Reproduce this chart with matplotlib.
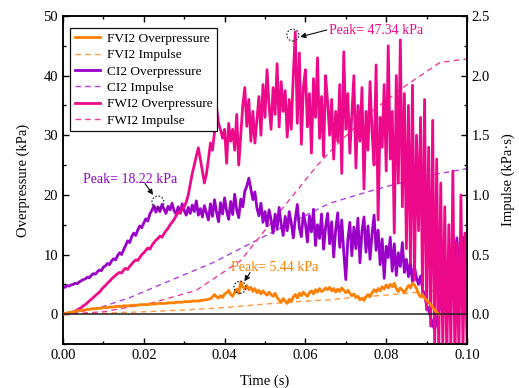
"""
Overpressure and impulse histories for FVI2 / CI2 / FWI2 (ignition at I2).
Values read off the original figure, sampled every 0.5 ms.
"""

import numpy as np
import matplotlib
matplotlib.use("Agg")
import matplotlib.pyplot as plt
import matplotlib.ticker as mticker
from matplotlib.patches import Ellipse

plt.rcParams["font.family"] = ["Liberation Serif", "DejaVu Serif"]
plt.rcParams["mathtext.fontset"] = "stix"

# ---------------------------------------------------------------------------
# Data (kPa), one value every 0.5 ms starting at t = 0
# ---------------------------------------------------------------------------
DT = 0.0005

fvi2_p = [
    0.0, 0.1, 0.2, 0.3, 0.3, 0.4, 0.5, 0.5, 0.6, 0.6, 0.7,
    0.7, 0.8, 0.8, 0.9, 0.9, 0.9, 1.0, 1.0, 1.0, 1.1,
    1.1, 1.1, 1.2, 1.2, 1.2, 1.3, 1.3, 1.3, 1.3, 1.4,
    1.4, 1.4, 1.4, 1.5, 1.5, 1.5, 1.5, 1.6, 1.6, 1.6,
    1.6, 1.6, 1.7, 1.7, 1.7, 1.7, 1.8, 1.8, 1.8, 1.8,
    1.8, 1.9, 1.9, 1.9, 1.9, 2.0, 2.0, 2.0, 2.0, 2.1,
    2.1, 2.1, 2.1, 2.2, 2.2, 2.2, 2.2, 2.3, 2.3, 2.4,
    2.4, 2.5, 2.6, 2.9, 3.3, 2.9, 2.7, 3.1, 2.8, 3.4,
    3.6, 4.0, 3.3, 3.0, 3.7, 4.2, 3.5, 5.44, 4.6, 4.2,
    4.8, 4.1, 4.5, 3.8, 4.3, 3.6, 4.0, 3.4, 3.9, 3.5,
    3.2, 3.7, 3.3, 3.0, 3.5, 2.8, 2.4, 2.0, 2.6, 2.2,
    1.8, 2.5, 2.1, 2.9, 3.3, 2.7, 3.5, 3.1, 3.7, 3.3,
    3.0, 3.6, 3.9, 3.4, 4.1, 3.7, 4.3, 3.8, 4.0, 4.4,
    4.1, 4.5, 3.9, 4.3, 3.7, 4.2, 3.8, 4.4, 4.0, 3.6,
    4.0, 3.5, 3.1, 3.4, 2.8, 3.0, 2.4, 2.7, 2.3, 2.9,
    3.3, 2.9, 3.6, 4.1, 3.7, 4.3, 3.9, 4.6, 4.2, 4.9,
    4.4, 5.0, 4.6, 5.2, 4.3, 3.8, 4.4, 4.0, 3.6, 4.2,
    4.8, 4.4, 5.2, 4.9, 4.3, 3.4, 2.9, 3.3, 2.7, 2.3,
    2.0, 1.6, 1.2, 0.7, 0.3, 0.0,
]

ci2_p = [
    4.6, 4.5, 4.8, 4.7, 4.9, 5.0, 5.2, 5.1, 5.4, 5.6, 5.8,
    5.9, 6.2, 6.1, 6.5, 6.8, 6.7, 7.1, 7.4, 7.3, 7.9,
    8.1, 8.5, 8.3, 8.9, 9.3, 9.1, 9.8, 10.3, 10.0, 10.8,
    11.5, 12.3, 12.0, 13.0, 13.6, 13.2, 14.1, 14.8, 14.5, 15.3,
    16.0, 15.6, 16.8, 17.4, 18.2, 17.1, 18.0, 17.2, 18.4, 17.6,
    16.9, 18.1, 17.5, 18.6, 17.3, 16.8, 18.0, 17.0, 18.5, 17.4,
    16.6, 17.9, 16.9, 18.3, 17.2, 19.0, 16.6, 17.7, 16.3, 18.2,
    17.0, 15.8, 18.5, 16.4, 19.2, 17.1, 15.5, 18.7, 16.8, 19.5,
    17.3, 15.9, 18.9, 16.7, 20.1, 17.5, 16.2, 19.3, 18.0, 20.6,
    21.5, 22.8, 21.0, 19.2, 20.5, 17.8, 16.5, 18.6, 15.4, 17.2,
    14.8, 17.5, 15.9, 13.6, 16.8, 14.2, 17.9, 15.1, 13.2, 16.4,
    14.0, 17.2, 15.3, 12.8, 16.0, 18.4, 14.5, 13.0, 16.9, 15.2,
    12.1, 16.5, 13.8, 17.6, 11.5, 15.0, 12.7, 16.8, 10.9, 14.6,
    16.9, 11.8, 15.5, 9.6, 14.2, 17.0, 11.2, 15.8, 10.3, 5.8,
    12.5, 15.4, 9.8, 14.6, 11.0, 16.1, 8.6, 13.9, 16.3, 10.4,
    14.8, 9.2, 13.5, 16.6, 10.7, 14.1, 8.3, 12.6, 6.0, 11.4,
    9.5, 12.9, 7.2, 11.8, 6.5, 10.3, 8.0, 12.0, 7.0, 9.2,
    6.3, 8.8, 5.5, 7.9, 6.1, 5.0, 6.4, 4.2, 3.1, 1.5,
    0.8, -0.5, -1.8, -2.6, -1.0, 0.5, 1.5, 2.8, 4.0, 3.2,
    5.5, 4.1, 7.0, 9.5, 12.8, 8.0, 6.2, 12.9, 9.0, 3.0,
]

fwi2_p = [
    0.0, 0.1, 0.1, 0.2, 0.3, 0.4, 0.5, 0.7, 0.9, 1.1, 1.4,
    1.6, 1.9, 2.2, 2.5, 2.8, 3.1, 3.4, 3.7, 4.1, 4.5,
    4.8, 5.2, 5.5, 5.9, 6.2, 6.5, 6.8, 7.0, 6.9, 7.4,
    7.7, 7.5, 8.0, 8.4, 8.8, 9.1, 9.0, 9.5, 10.0, 10.3,
    10.7, 11.1, 10.9, 11.5, 12.0, 12.4, 12.7, 13.1, 12.9, 13.5,
    14.0, 14.4, 15.0, 15.4, 15.9, 16.5, 17.1, 16.9, 17.7, 18.0,
    18.8, 20.0, 21.8, 23.6, 25.0, 26.5, 27.9, 26.0, 24.0, 22.0,
    23.5, 26.0, 28.7, 27.5, 30.5, 34.7, 32.0, 30.9, 29.5, 31.0,
    25.3, 32.0, 29.0, 31.0, 27.5, 33.5, 25.0, 30.0, 35.0, 38.0,
    31.5, 36.0, 29.0, 34.0, 28.7, 32.5, 36.5, 30.0, 38.5, 33.0,
    41.0, 35.0, 31.0, 38.0, 33.5, 42.0, 31.4, 39.0, 34.0, 37.5,
    29.7, 36.0, 31.0, 40.0, 47.34, 32.0, 43.8, 28.5, 38.0, 41.0,
    31.4, 37.0, 27.0, 39.5, 33.0, 43.0, 29.5, 36.5, 26.5, 40.0,
    35.5, 30.0, 36.0, 26.0, 34.0, 29.0, 38.5, 23.6, 44.0, 31.0,
    37.0, 27.0, 33.5, 40.0, 24.5, 35.0, 29.0, 38.0, 21.0, 34.0,
    27.5, 39.0, 30.5, 25.0, 41.8, 15.8, 33.0, 28.0, 38.5, 24.0,
    45.0, 26.0, 34.0, 13.6, 40.0, 22.0, 46.0, 18.0, 37.0, 11.0,
    35.0, 8.5, 38.4, 5.7, 30.0, 14.0, 33.0, 3.0, 36.0, 0.7,
    28.0, -2.0, 32.5, -5.5, 26.0, -7.0, 22.0, -6.0, 18.0, -8.0,
    15.0, -6.0, 24.0, -8.0, 12.0, -7.0, 20.0, -6.0, 13.6, -5.0,
]

# impulse (kPa*s), read at a few times off the smooth dashed curves
fvi2_imp_t = [0.0, 0.01, 0.02, 0.03, 0.04, 0.05, 0.06, 0.066, 0.07, 0.08, 0.09, 0.092, 0.10]
fvi2_imp   = [0.0, 0.008, 0.02, 0.035, 0.055, 0.085, 0.11, 0.12, 0.135, 0.16, 0.19, 0.20, 0.20]

ci2_imp_t = [0.0, 0.005, 0.01, 0.0166, 0.025, 0.037, 0.052, 0.066, 0.0768, 0.09, 0.10]
ci2_imp   = [0.0, 0.025, 0.065, 0.14, 0.26, 0.43, 0.69, 0.93, 1.04, 1.16, 1.22]

fwi2_imp_t = [0.0, 0.01, 0.0215, 0.033, 0.044, 0.052, 0.063, 0.0686, 0.0768, 0.085, 0.0933, 0.10]
fwi2_imp   = [0.0, 0.02, 0.09, 0.20, 0.45, 0.79, 1.25, 1.45, 1.71, 1.92, 2.11, 2.14]

# peak annotations: (time, kPa) of the circled point, and the quoted peak
peaks = {
    "FVI2": (0.0438, 4.5, 5.44),
    "CI2":  (0.0235, 18.8, 18.22),
    "FWI2": (0.0569, 46.8, 47.34),
}

C_ORANGE = "#ff7f00"
C_PURPLE = "#9a00c8"
C_PINK   = "#ec0a8a"
C_ORANGE_D = "#ff9a40"
C_PURPLE_D = "#b040e0"
C_PINK_D   = "#f03c9e"
DASH = (0, (4, 3))

# ---------------------------------------------------------------------------
# Figure
# ---------------------------------------------------------------------------
fig = plt.figure(figsize=(5.19, 3.88), dpi=100)
ax = fig.add_axes([63 / 519, 1 - 344 / 388, 404 / 519, 328 / 388])
ax2 = ax.twinx()

t_orange = np.arange(len(fvi2_p)) * DT
t_purple = np.arange(len(ci2_p)) * DT
t_pink = np.arange(len(fwi2_p)) * DT

# impulses on the right axis, overpressure on the left
ax2.plot(fvi2_imp_t, fvi2_imp, color=C_ORANGE_D, lw=1.0, ls=DASH)
ax2.plot(ci2_imp_t, ci2_imp, color=C_PURPLE_D, lw=1.0, ls=DASH)
ax2.plot(fwi2_imp_t, fwi2_imp, color=C_PINK_D, lw=1.0, ls=DASH)

ax.set_zorder(ax2.get_zorder() + 1)
ax.patch.set_visible(False)

ax.plot(t_orange, fvi2_p, color=C_ORANGE, lw=2.0, zorder=3, label="FVI2 Overpressure")
ax.plot([], [], color=C_ORANGE_D, lw=1.0, ls=DASH, label="FVI2 Impulse")
ax.plot(t_purple, ci2_p, color=C_PURPLE, lw=2.0, zorder=2, label="CI2 Overpressure")
ax.plot([], [], color=C_PURPLE_D, lw=1.0, ls=DASH, label="CI2 Impulse")
ax.plot(t_pink, fwi2_p, color=C_PINK, lw=2.0, zorder=2.5, label="FWI2 Overpressure")
ax.plot([], [], color=C_PINK_D, lw=1.0, ls=DASH, label="FWI2 Impulse")

ax.axhline(0, color="#222", lw=1.1, zorder=5)

# axes limits / ticks
ax.set_xlim(0, 0.10)
ax.set_ylim(-5, 50)
ax2.set_ylim(-0.25, 2.5)

ax.xaxis.set_major_locator(mticker.MultipleLocator(0.02))
ax.xaxis.set_minor_locator(mticker.MultipleLocator(0.01))
ax.xaxis.set_major_formatter(mticker.FormatStrFormatter("%.2f"))
ax.yaxis.set_major_locator(mticker.MultipleLocator(10))
ax.yaxis.set_minor_locator(mticker.MultipleLocator(5))
ax2.yaxis.set_major_locator(mticker.MultipleLocator(0.5))
ax2.yaxis.set_minor_locator(mticker.MultipleLocator(0.25))
ax2.yaxis.set_major_formatter(mticker.FormatStrFormatter("%.1f"))

for a in (ax, ax2):
    a.tick_params(which="both", direction="in", labelsize=10.5, width=1.0)
    a.tick_params(which="major", length=4)
    a.tick_params(which="minor", length=2.5)
    for s in a.spines.values():
        s.set_linewidth(1.1)
ax.tick_params(which="both", top=True, right=False)

ax.set_xlabel("Time (s)", fontsize=10.5, labelpad=9)
ax.set_ylabel("Overpressure (kPa)", fontsize=10.5, labelpad=10)
ax2.set_ylabel("Impulse (kPa\u00b7s)", fontsize=10.5, labelpad=8)

# peak markers
rx, ry = 6 / 4040, 6 / 5.96
for key in ("FVI2", "CI2", "FWI2"):
    tx, py, _ = peaks[key]
    ax.add_patch(Ellipse((tx, py), 2 * rx, 2 * ry, fill=False, ec="#222",
                         lw=0.8, ls=(0, (1.5, 1.5)), zorder=6))

arrow = dict(arrowstyle="-|>", color="#111", lw=0.8, mutation_scale=8,
             shrinkA=0, shrinkB=0)
ax.annotate("", xy=(0.0587, 46.5), xytext=(0.0653, 47.65), arrowprops=arrow, zorder=7)
ax.text(0.0658, 47.6, f"Peak= {peaks['FWI2'][2]:.2f} kPa", color=C_PINK,
        fontsize=10, va="center", ha="left")

ax.annotate("", xy=(0.0223, 20.0), xytext=(0.0203, 21.9), arrowprops=arrow, zorder=7)
ax.text(0.0049, 22.6, f"Peak= {peaks['CI2'][2]:.2f} kPa", color=C_PURPLE,
        fontsize=10, va="center", ha="left")

ax.annotate("", xy=(0.0449, 5.5), xytext=(0.0463, 7.0), arrowprops=arrow, zorder=7)
ax.text(0.0415, 7.8, f"Peak= {peaks['FVI2'][2]:.2f} kPa", color=C_ORANGE,
        fontsize=10, va="center", ha="left")

leg = ax.legend(loc="upper left", bbox_to_anchor=(7 / 404, 1 - 12 / 328),
                borderaxespad=0, fontsize=9.6, handlelength=1.9, handletextpad=0.5,
                labelspacing=0.3, borderpad=0.35, frameon=True, fancybox=False,
                framealpha=1)
leg.get_frame().set_edgecolor("#111")
leg.get_frame().set_linewidth(0.9)
leg.set_zorder(10)

# title sits almost entirely above the canvas in the original
fig.text(0.45, 1 + 5 / 388, "(Overpressure and impulse, ignition at I2)",
         ha="center", va="baseline", fontsize=11)

fig.savefig("out.png", dpi=100)
